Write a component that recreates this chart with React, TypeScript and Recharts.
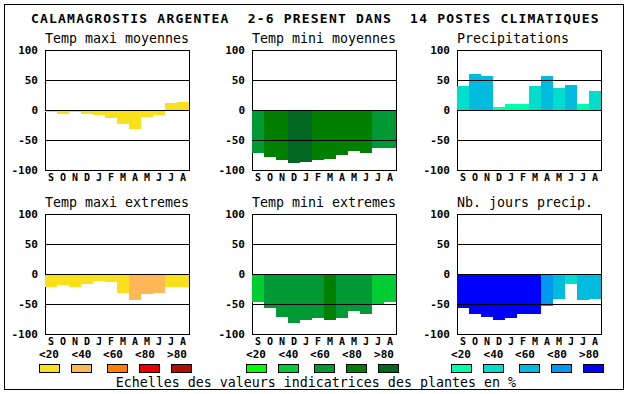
import {
  Bar,
  BarChart,
  Cell,
  ReferenceArea,
  ReferenceLine,
  XAxis,
  YAxis,
} from "recharts";

// months, september -> august
const MONTHS = ["S", "O", "N", "D", "J", "F", "M", "A", "M", "J", "J", "A"];
const Y_TICKS = [-100, -50, 0, 50, 100];
const GRID_LINES = [50, 0, -50];
const CLASS_LABELS = ["<20", "<40", "<60", "<80", ">80"];

// values (% scale) and colour class (0..4) per month
const TMAX_MOY = [-3, -6, -4, -6, -8, -13, -23, -31, -11, -8, 12, 14];
const TMAX_MOY_CLS = [0, 0, 0, 0, 0, 0, 0, 0, 0, 0, 0, 0];

const TMIN_MOY = [-72, -78, -83, -88, -86, -83, -82, -75, -68, -71, -64, -64];
const TMIN_MOY_CLS = [2, 3, 3, 4, 4, 3, 3, 3, 3, 3, 2, 2];

const PRECIP = [40, 60, 57, 5, 10, 10, 40, 57, 37, 42, 10, 32];
const PRECIP_CLS = [1, 2, 2, 0, 0, 0, 1, 2, 1, 2, 0, 1];

const TMAX_EXT = [-22, -18, -22, -16, -11, -14, -31, -44, -34, -31, -21, -21];
const TMAX_EXT_CLS = [0, 0, 0, 0, 0, 0, 0, 1, 1, 1, 0, 0];

const TMIN_EXT = [-46, -57, -72, -81, -76, -73, -77, -73, -61, -66, -52, -47];
const TMIN_EXT_CLS = [1, 2, 2, 2, 2, 2, 3, 2, 2, 2, 1, 1];

const NB_JOURS = [-57, -66, -72, -77, -74, -66, -67, -54, -41, -17, -44, -42];
const NB_JOURS_CLS = [4, 4, 4, 4, 4, 4, 4, 3, 2, 1, 2, 2];

const WARM = ["#f8e11b", "#ffb855", "#ff8000", "#ee0000", "#aa1100"];
const GREEN = ["#00ff00", "#00cc33", "#009933", "#007f00", "#006622"];
const WATER = ["#00ffaa", "#00ddcc", "#00bbdd", "#0099ee", "#0000ff"];

const FONT = "'DejaVu Sans Mono', monospace";
const PLOT_W = 144;
const PLOT_H = 120;
const COL_X = [45, 252, 457];
const ROW_Y = [50, 214];
const LABEL_DX = [4, 36.5, 68, 100, 132];
const BOX_DX = [-6, 26, 62, 94, 126];

const PANELS = [
  { title: "Temp maxi moyennes", values: TMAX_MOY, cls: TMAX_MOY_CLS, palette: WARM, col: 0, row: 0 },
  { title: "Temp mini moyennes", values: TMIN_MOY, cls: TMIN_MOY_CLS, palette: GREEN, col: 1, row: 0 },
  { title: "Precipitations", values: PRECIP, cls: PRECIP_CLS, palette: WATER, col: 2, row: 0 },
  { title: "Temp maxi extremes", values: TMAX_EXT, cls: TMAX_EXT_CLS, palette: WARM, col: 0, row: 1 },
  { title: "Temp mini extremes", values: TMIN_EXT, cls: TMIN_EXT_CLS, palette: GREEN, col: 1, row: 1 },
  { title: "Nb. jours precip.", values: NB_JOURS, cls: NB_JOURS_CLS, palette: WATER, col: 2, row: 1 },
];

const tickStyle = { fill: "#000", fontSize: 11, fontWeight: "bold", fontFamily: FONT };

function Panel({
  values,
  cls,
  palette,
  x,
  y,
}: {
  values: number[];
  cls: number[];
  palette: string[];
  x: number;
  y: number;
}) {
  const data = MONTHS.map((m, i) => ({ i, m, v: values[i] }));
  return (
    <div
      style={{
        position: "absolute",
        left: x - 45,
        top: y - 50,
        shapeRendering: "crispEdges",
      }}
    >
      <BarChart
        width={45 + PLOT_W + 5}
        height={50 + PLOT_H + 20}
        data={data}
        margin={{ top: 50, right: 5, bottom: 0, left: 5 }}
        barCategoryGap={0}
      >
        <XAxis
          dataKey="i"
          tickFormatter={(i: number) => MONTHS[i]}
          interval={0}
          tickLine={false}
          axisLine={false}
          tickSize={0}
          tickMargin={4}
          height={20}
          tick={{ ...tickStyle, fontSize: 10 }}
        />
        <YAxis
          type="number"
          domain={[-100, 100]}
          ticks={Y_TICKS}
          interval={0}
          width={40}
          tickLine={false}
          axisLine={false}
          tickSize={6}
          tickMargin={1}
          tick={tickStyle}
        />
        <Bar dataKey="v" isAnimationActive={false}>
          {data.map((d) => (
            <Cell key={d.i} fill={palette[cls[d.i]]} />
          ))}
        </Bar>
        {GRID_LINES.map((g) => (
          <ReferenceLine key={g} y={g} stroke="#000" strokeWidth={1} />
        ))}
        <ReferenceArea
          y1={-100}
          y2={100}
          fill="none"
          fillOpacity={0}
          stroke="#000"
          strokeWidth={1}
          strokeOpacity={1}
        />
      </BarChart>
    </div>
  );
}

function Legend({ x, palette }: { x: number; palette: string[] }) {
  return (
    <g>
      {CLASS_LABELS.map((lab, k) => (
        <text
          key={lab}
          x={x + LABEL_DX[k]}
          y={357.7}
          textAnchor="middle"
          fontSize={11}
          fontWeight="bold"
          fontFamily={FONT}
        >
          {lab}
        </text>
      ))}
      {palette.map((c, k) => (
        <rect
          key={c}
          x={x + BOX_DX[k] + 0.5}
          y={364.5}
          width={20}
          height={8}
          fill={c}
          stroke="#000"
          strokeWidth={1}
        />
      ))}
    </g>
  );
}

export default function App() {
  return (
    <div
      style={{
        position: "absolute",
        left: 0,
        top: 0,
        width: 630,
        height: 394,
        background: "#fff",
      }}
    >
      <svg
        width={630}
        height={394}
        style={{ position: "absolute", left: 0, top: 0 }}
      >
        <rect x={4.5} y={4.5} width={619} height={385} fill="none" stroke="#000" />
        <text
          x={31}
          y={22.7}
          fontSize={13}
          fontWeight="bold"
          letterSpacing={1.2}
          fontFamily={FONT}
          style={{ whiteSpace: "pre" }}
        >
          {"CALAMAGROSTIS ARGENTEA  2-6 PRESENT DANS  14 POSTES CLIMATIQUES"}
        </text>
        {PANELS.map((p) => (
          <text
            key={p.title}
            x={COL_X[p.col]}
            y={ROW_Y[p.row] - 6.7}
            fontSize={13.3}
            fontFamily={FONT}
          >
            {p.title}
          </text>
        ))}
        <Legend x={COL_X[0]} palette={WARM} />
        <Legend x={COL_X[1]} palette={GREEN} />
        <Legend x={COL_X[2]} palette={WATER} />
        <text x={115.7} y={386.7} fontSize={13.3} fontFamily={FONT}>
          Echelles des valeurs indicatrices des plantes en %
        </text>
      </svg>
      {PANELS.map((p) => (
        <Panel
          key={p.title}
          values={p.values}
          cls={p.cls}
          palette={p.palette}
          x={COL_X[p.col]}
          y={ROW_Y[p.row]}
        />
      ))}
    </div>
  );
}
